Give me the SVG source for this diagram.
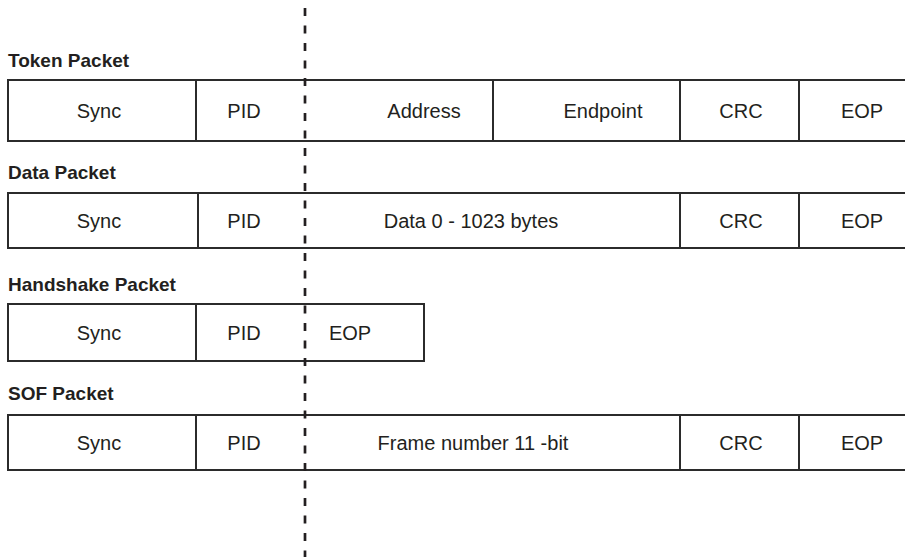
<svg xmlns="http://www.w3.org/2000/svg" width="905" height="557" viewBox="0 0 905 557">
<style>
.box{fill:none;stroke:#2b2b2b;stroke-width:2}
.div{stroke:#2b2b2b;stroke-width:2}
.title{font-family:"Liberation Sans",Arial,sans-serif;font-weight:bold;font-size:19px;fill:#231f20}
.cell{font-family:"Liberation Sans",Arial,sans-serif;font-size:20px;fill:#231f20;text-anchor:middle}
.dash{stroke:#231f20;stroke-width:2.7;stroke-dasharray:8 9.5;fill:none}
</style>
<rect width="905" height="557" fill="#fff"/>
<g id="token">
<text class="title" x="8" y="67">Token Packet</text>
<rect class="box" x="8" y="80" width="910" height="61"/>
<line class="div" x1="196" y1="80" x2="196" y2="141"/>
<line class="div" x1="493" y1="80" x2="493" y2="141"/>
<line class="div" x1="680" y1="80" x2="680" y2="141"/>
<line class="div" x1="799" y1="80" x2="799" y2="141"/>
<text class="cell" x="99" y="118">Sync</text>
<text class="cell" x="244" y="118">PID</text>
<text class="cell" x="424" y="118">Address</text>
<text class="cell" x="603" y="118">Endpoint</text>
<text class="cell" x="741" y="118">CRC</text>
<text class="cell" x="862" y="118">EOP</text>
</g>
<g id="data">
<text class="title" x="8" y="179">Data Packet</text>
<rect class="box" x="8" y="193" width="910" height="55"/>
<line class="div" x1="198" y1="193" x2="198" y2="248"/>
<line class="div" x1="680" y1="193" x2="680" y2="248"/>
<line class="div" x1="799" y1="193" x2="799" y2="248"/>
<text class="cell" x="99" y="228">Sync</text>
<text class="cell" x="244" y="228">PID</text>
<text class="cell" x="471" y="228">Data 0 - 1023 bytes</text>
<text class="cell" x="741" y="228">CRC</text>
<text class="cell" x="862" y="228">EOP</text>
</g>
<g id="handshake">
<text class="title" x="8" y="291">Handshake Packet</text>
<rect class="box" x="8" y="304" width="416" height="57"/>
<line class="div" x1="196" y1="304" x2="196" y2="361"/>
<text class="cell" x="99" y="340">Sync</text>
<text class="cell" x="244" y="340">PID</text>
<text class="cell" x="350" y="340">EOP</text>
</g>
<g id="sof">
<text class="title" x="8" y="400">SOF Packet</text>
<rect class="box" x="8" y="415" width="910" height="55"/>
<line class="div" x1="196" y1="415" x2="196" y2="470"/>
<line class="div" x1="680" y1="415" x2="680" y2="470"/>
<line class="div" x1="799" y1="415" x2="799" y2="470"/>
<text class="cell" x="99" y="450">Sync</text>
<text class="cell" x="244" y="450">PID</text>
<text class="cell" x="473" y="450">Frame number 11 -bit</text>
<text class="cell" x="741" y="450">CRC</text>
<text class="cell" x="862" y="450">EOP</text>
</g>
<g id="connectors">
<line class="dash" x1="305" y1="8" x2="305" y2="557"/>
</g>
</svg>
